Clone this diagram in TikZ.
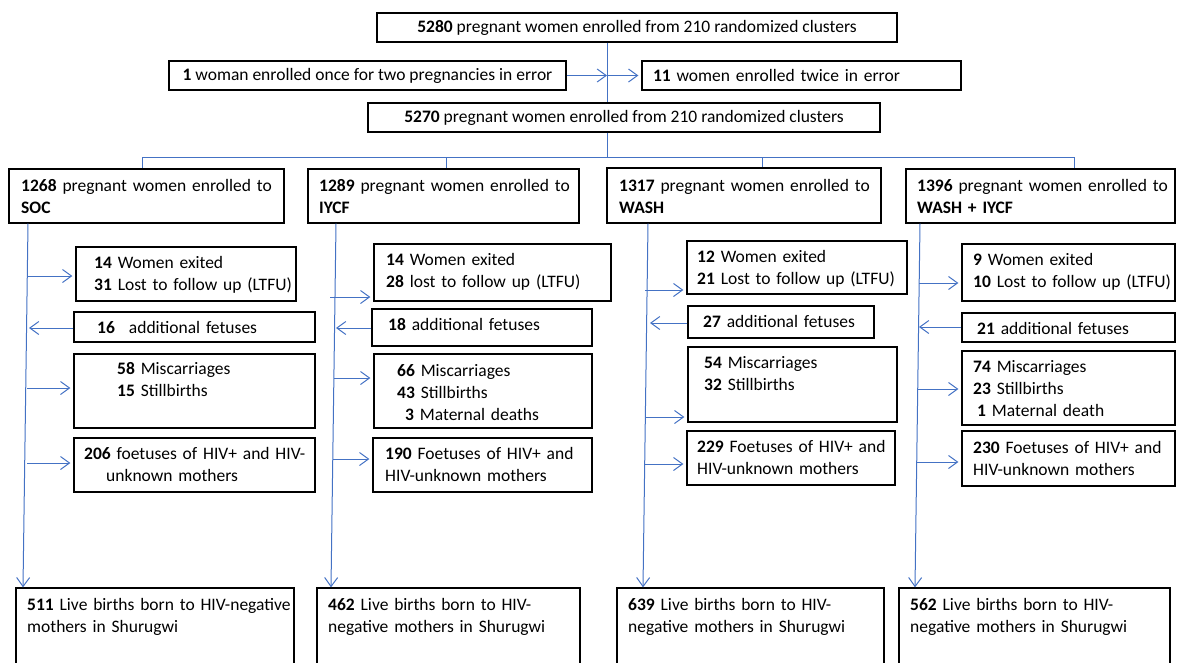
\documentclass[tikz,border=0pt]{standalone}
\usepackage{fontspec}
\setmainfont{Carlito}
\usetikzlibrary{arrows.meta,fit}

\definecolor{flow}{RGB}{68,114,196}

% framed box spanning (x1,y1)-(x2,y2) with its text set from a given baseline point
% #1 name, #2 x1, #3 y1, #4 x2, #5 y2, #6 text x, #7 first baseline y, #8 text
\newcommand\fbx[8]{%
  \node[frame, fit={(#2,#3) (#4,#5)}] (#1) {};
  \node[txt] (#1-t) at (#6,#7) {#8};
}
% arrow from a point on a column spine into a box
\newcommand\outarr[3]{%
  \coordinate (#1) at (#2);
  \draw[arr, shorten >=3pt] (#1) -- (#1 -| #3.west);
}
% arrow from a box back onto a column spine
\newcommand\inarr[3]{%
  \coordinate (#1) at (#2);
  \draw[arr] (#1 -| #3.west) -- (#1);
}

\begin{document}
\begin{tikzpicture}[x=1pt,y=-1pt,
  frame/.style={draw=black, line width=1.3pt, inner sep=0pt, fill=white},
  txt/.style={inner sep=0pt, text width=300pt, align=left, anchor=base west,
    font=\fontsize{17.5}{22}\selectfont},
  cbox/.style={draw=black, line width=1.3pt, fill=white, inner sep=0pt,
    minimum height=29pt, font=\fontsize{17.5}{22}\selectfont},
  link/.style={draw=flow, line width=1pt},
  arr/.style={link, -{Straight Barb[length=9pt,width=13pt]}},
]
\path[use as bounding box] (0,0) rectangle (1179,662);
\clip (0,0) rectangle (1179,662);

% ---- enrolment and exclusions
\node[cbox, minimum width=520pt] (enr) at (637,27.5)
  {\textbf{5280} pregnant women enrolled from 210 randomized clusters};
\node[cbox, minimum width=397pt] (err1) at (367.5,75.5)
  {\textbf{1} woman enrolled once for two pregnancies in error};
\node[cbox, minimum width=319pt, text width=297pt, align=left] (err2) at (801.5,75.5)
  {\textbf{11} women enrolled twice in error};
\node[cbox, minimum width=512pt] (enr2) at (624,117.5)
  {\textbf{5270} pregnant women enrolled from 210 randomized clusters};

% ---- arm boxes
\fbx{gS}{9}{169}{284}{223}{21}{191}{\textbf{1268} pregnant women enrolled to\\\textbf{SOC}}
\fbx{gI}{308}{169}{579}{223}{319}{191}{\textbf{1289} pregnant women enrolled to\\\textbf{IYCF}}
\fbx{gW}{607}{168}{881}{223}{619}{191}{\textbf{1317} pregnant women enrolled to\\\textbf{WASH}}
\fbx{gX}{906}{169}{1175}{223}{917}{191}{\textbf{1396} pregnant women enrolled to\\\textbf{WASH + IYCF}}

% ---- SOC arm
\fbx{s1a}{76}{247}{296}{301}{94}{268}{\textbf{14} Women exited\\\textbf{31} Lost to follow up (LTFU)}
\fbx{s1b}{74}{312}{315}{342}{97}{333}{\textbf{16}\hspace{14pt}additional fetuses}
\fbx{s1c}{74}{354}{315}{428}{117}{374}{\textbf{58} Miscarriages\\\textbf{15} Stillbirths}
\fbx{s1d}{74}{438}{315}{492}{84}{459}{\textbf{206} foetuses of HIV+ and HIV-\\\hspace*{22pt}unknown mothers}
\fbx{b1}{16}{588}{294}{672}{27}{610}{\textbf{511} Live births born to HIV-negative\\mothers in Shurugwi}

% ---- IYCF arm
\fbx{s2a}{374}{244}{611}{301}{386}{265}{\textbf{14} Women exited\\\textbf{28} lost to follow up (LTFU)}
\fbx{s2b}{372}{309}{592}{346}{388}{330}{\textbf{18} additional fetuses}
\fbx{s2c}{374}{354}{592}{428}{397}{376}{\textbf{66} Miscarriages\\\textbf{43} Stillbirths\\\hspace*{8pt}\textbf{3} Maternal deaths}
\fbx{s2d}{373}{438}{592}{492}{385}{459}{\textbf{190} Foetuses of HIV+ and\\HIV-unknown mothers}
\fbx{b2}{317}{588}{580}{672}{328}{610}{\textbf{462} Live births born to HIV-\\negative mothers in Shurugwi}

% ---- WASH arm
\fbx{s3a}{687}{241}{907}{294}{697}{262}{\textbf{12} Women exited\\\textbf{21} Lost to follow up (LTFU)}
\fbx{s3b}{688}{306}{874}{338}{703}{327}{\textbf{27} additional fetuses}
\fbx{s3c}{688}{347}{897}{422}{704}{368}{\textbf{54} Miscarriages\\\textbf{32} Stillbirths}
\fbx{s3d}{687}{431}{895}{485}{697}{452}{\textbf{229} Foetuses of HIV+ and\\HIV-unknown mothers}
\fbx{b3}{617}{588}{884}{672}{628}{610}{\textbf{639} Live births born to HIV-\\negative mothers in Shurugwi}

% ---- WASH + IYCF arm
\fbx{s4a}{962}{244}{1175}{301}{973}{265}{\textbf{9} Women exited\\\textbf{10} Lost to follow up (LTFU)}
\fbx{s4b}{962}{313}{1175}{342}{977}{334}{\textbf{21} additional fetuses}
\fbx{s4c}{962}{351}{1175}{425}{973}{372}{\textbf{74} Miscarriages\\\textbf{23} Stillbirths\\\hspace*{4pt}\textbf{1} Maternal death}
\fbx{s4d}{962}{431}{1175}{486}{973}{453}{\textbf{230} Foetuses of HIV+ and\\HIV-unknown mothers}
\fbx{b4}{899}{588}{1170}{672}{910}{610}{\textbf{562} Live births born to HIV-\\negative mothers in Shurugwi}

% ---- trunk and split
\coordinate (hub) at (607,157);
\draw[link] (enr.south -| hub) -- (enr2.north -| hub);
\draw[link] (enr2.south -| hub) -- (hub);
\draw[arr] (err1.east) -- (err1.east -| hub);
\draw[arr, shorten >=3pt] (err1.east -| hub) -- (err2.west);

\coordinate (d1) at (142,157);
\coordinate (d2) at (446,157);
\coordinate (d3) at (762,157);
\coordinate (d4) at (1074,157);
\draw[link] (d1) -- (d4);
\foreach \d/\g in {d1/gS, d2/gI, d3/gW, d4/gX}
  \draw[link] (\d) -- (\d |- \g.north);

% ---- column spines
\coordinate (k1) at (28,223);  \coordinate (e1) at (23,588);
\coordinate (k2) at (336,223); \coordinate (e2) at (331,588);
\coordinate (k3) at (648,223); \coordinate (e3) at (643,588);
\coordinate (k4) at (920,223); \coordinate (e4) at (915,588);
\draw[arr] (k1 |- gS.south) -- (e1 |- b1.north);
\draw[arr] (k2 |- gI.south) -- (e2 |- b2.north);
\draw[arr] (k3 |- gW.south) -- (e3 |- b3.north);
\draw[arr] (k4 |- gX.south) -- (e4 |- b4.north);

% ---- side arrows
\outarr{p1a}{28,276}{s1a}
\inarr{p1b}{29,328}{s1b}
\outarr{p1c}{27,388}{s1c}
\outarr{p1d}{27,463}{s1d}

\outarr{p2a}{330,297}{s2a}
\inarr{p2b}{336,328}{s2b}
\outarr{p2c}{334,378}{s2c}
\outarr{p2d}{333,459}{s2d}

\outarr{p3a}{645,290}{s3a}
\inarr{p3b}{650,323}{s3b}
\outarr{p3c}{646,417}{s3c}
\outarr{p3d}{645,464}{s3d}

\outarr{p4a}{919,283}{s4a}
\inarr{p4b}{919,327}{s4b}
\outarr{p4c}{918,389}{s4c}
\outarr{p4d}{917,462}{s4d}
\end{tikzpicture}
\end{document}
